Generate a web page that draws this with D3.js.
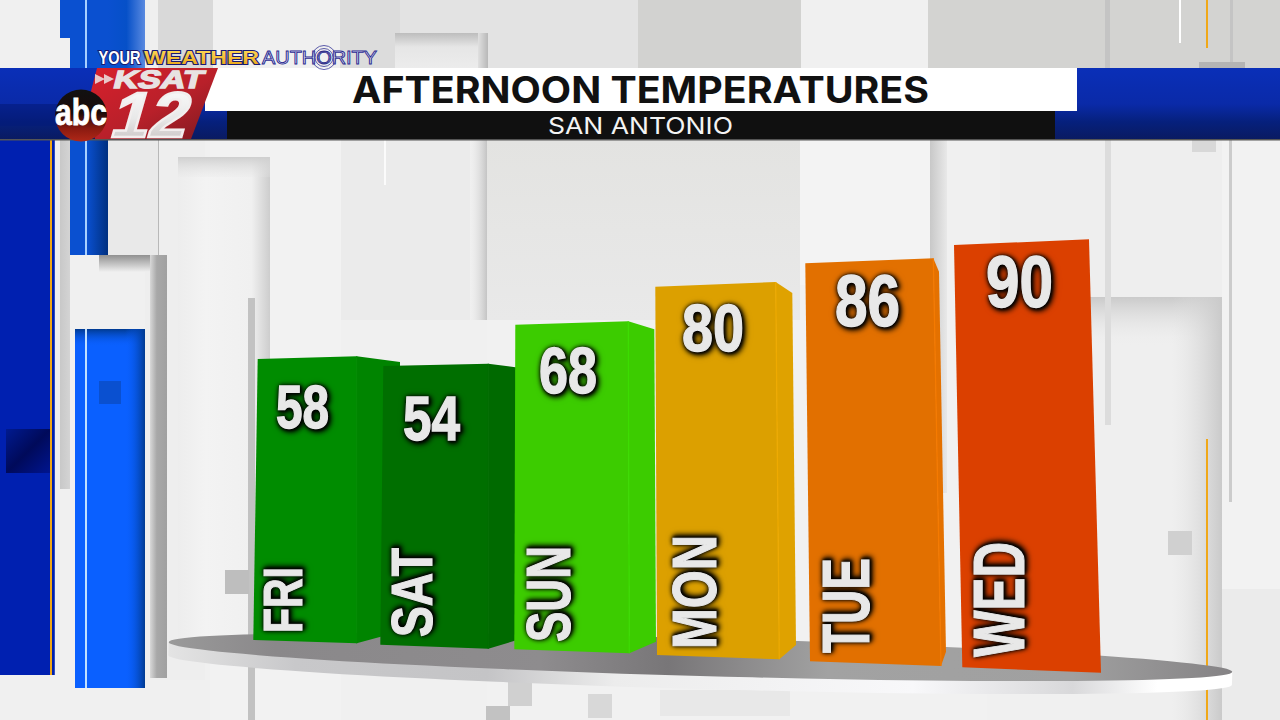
<!DOCTYPE html>
<html><head><meta charset="utf-8">
<script src="https://cdn.jsdelivr.net/npm/d3@7"></script>
<style>
html,body{margin:0;padding:0;background:#f0f0f0;overflow:hidden}
svg{display:block}
</style></head><body><svg id="c" width="1280" height="720" viewBox="0 0 1280 720"></svg>
<script>
// ---------- chart data ----------
const days = ["FRI","SAT","SUN","MON","TUE","WED"];
const temps = [58,54,68,80,86,90];
const frontColors = ["#008c00","#006f00","#3ccc00","#dca000","#e27000","#db4000"];
const sideColors  = ["#008400","#006a00","#3ccc00","#dfa200","#e47100","#db4000"];
const edgeColors  = ["#008a00","#006c00","#3cdc00","#eeaa00","#f57a00","#db4000"];
const titleText = "AFTERNOON TEMPERATURES";
const subtitleText = "SAN ANTONIO";

// ---------- perspective of the stage: scales indexed by bar position ----------
const knots = r => d3.scaleLinear().domain(d3.range(r.length)).range(r);
const tempY = d3.scaleLinear().domain([54,58,68,80,86,90]).range([366,359,324.7,286.7,263.3,245]);
const topLeftX = knots([257.7,383.3,515.3,655.3,805.3,954]);
const footLeftX = knots([253.3,380.3,514.3,657,810,962.3]);
const footLeftY = knots([640,644.7,649.3,655,661.3,667.3]);
const topRightX = knots([356.7,488.3,628.3,775.7,933.3,1089]);
const footRightX = knots([356.7,488.3,629.3,779.3,941,1101]);
const rise = knots([2.7,2.3,3.4,4.7,5,5.7]);
const fall = knots([-3.3,-4,-4,-4.3,-4.7,-5.4]);
const sideBackDX = knots([43.3,42,26,16.6,5.7,0]);
const sideBackTopDY = knots([5.7,5.5,8,11,13.4,0]);
const sideBackFootDX = knots([43.3,42,26.7,16.7,5,0]);
const sideBackFootDY = knots([-11.7,-12.7,-11.6,-14.3,-14.3,0]);
const numLeft = knots([276,403,539,682,835,986]);
const numWidth = knots([53,57,58,62,65,67]);
const numBase = knots([428,440,393,351,326,307]);
const numHeight = knots([45,47,48,50,53,54]);
const dayBase = knots([302,432,570,716,869,1024]);
const dayFoot = knots([633,637,642,649,653,657]);
const dayLen = knots([66,89,96,114,95,115]);
const dayCap = knots([41,42,46,47,49,53]);

const svg = d3.select("#c");
const defs = svg.append("defs");
function grad(id,x1,y1,x2,y2,stops){
  const g=defs.append("linearGradient").attr("id",id).attr("x1",x1).attr("y1",y1).attr("x2",x2).attr("y2",y2);
  stops.forEach(s=>g.append("stop").attr("offset",s[0]).attr("stop-color",s[1]).attr("stop-opacity",s[2]===undefined?1:s[2]));
  return `url(#${id})`;
}
function R(x,y,w,h,f,o){return svg.append("rect").attr("x",x).attr("y",y).attr("width",w).attr("height",h).attr("fill",f).attr("opacity",o===undefined?1:o);}

// ---------- background collage ----------
R(0,0,1280,720,"#f0f0f0");
// top row
R(145,0,15,68,"#efefef");R(158,0,55,68,"#d9d9d9");R(213,0,127,68,"#f0f0f0");R(340,0,60,68,"#dcdcdc");
R(400,0,238,68,"#e3e3e3");R(638,0,163,68,"#d2d2d0");R(801,0,127,68,"#f0f0f0");R(928,0,352,68,"#d3d3d1");
R(395,33,93,35,grad("g1","0","0","0","1",[[0,"#bdbdbd"],[.4,"#e6e6e6"],[1,"#ececec"]]));
R(478,33,10,35,grad("g2","0","0","1","0",[[0,"#e0e0e0"],[1,"#b8b8b8"]]));
R(1105,0,5,68,"#c4c4c4");R(1230,0,3,68,"#c4c4c4");
R(1179,0,2,43,"#ffffff");R(1206,0,2,48,"#f0a818");R(1199,62,46,6,"#b4b4b4");
// mid panels
R(145,140,60,540,"#eeeeee");R(108,140,50,115,"#e9e9e9");
R(210,140,131,580,"#f2f2f2");
R(341,140,129,180,"#ebebeb");
R(341,320,146,400,"#f0f0f0");
R(487,140,313,180,grad("g3","0","0","0","1",[[0,"#e3e3e1"],[1,"#e9e9e9"]]));
R(470,140,17,180,grad("g4","0","0","1","0",[[0,"#e4e4e4",0],[1,"#c4c4c4"]]));
R(384,140,2,45,"#fbfbfb");
R(487,320,500,400,"#f1f1f1");
R(800,140,130,145,"#f3f3f3");
R(1000,140,280,157,"#eeeeee");
R(930,140,17,353,grad("g5","0","0","1","0",[[0,"#c8c8c8"],[1,"#e8e8e8"]]));
R(1222,140,58,449,"#f2f2f2");R(1222,589,58,131,"#ebebeb");
R(1090,297,132,423,"#efefef");
R(1090,297,132,50,grad("g6","0","0","0","1",[[0,"#cacaca"],[1,"#efefef",0]]));
R(1172,297,50,423,grad("g7","0","0","1","0",[[0,"#e0e0e0",0],[1,"#cacaca"]]));
// light frame behind the first bars
R(178,157,92,500,grad("g8","0","0","1","0",[[0,"#ededed"],[.3,"#f3f3f3"],[.8,"#f0f0f0"],[1,"#cdcdcd"]]));
R(178,157,92,20,grad("g9","0","0","0","1",[[0,"#cfcfcf"],[1,"#e6e6e6",.2]]));
R(248,298,7,422,"#c2c2c2");R(225,570,24,24,"#bebebe");
// left blue blocks
R(60,0,10,38,"#0a50d0");
R(70,0,38,68,"#0a50d0");R(85,0,2,68,"#a8d0ff");
R(108,0,37,68,grad("g10","0","0","1","0",[[0,"#0a50d0"],[.5,"#0650c8"],[1,"#5a8ae0"]]));
R(70,140,38,115,"#0a50d0");R(85,140,2,115,"#a8d0ff");
R(87,140,21,115,grad("g11","0","0","1","0",[[0,"#0a50d0"],[1,"#003080"]]));
R(60,140,10,349,grad("g12","0","0","1","0",[[0,"#c8c8c8"],[1,"#d4d4d4"]]));
R(0,140,55,535,"#0020b0");R(50,140,2,535,"#f0a818");R(54,140,1,535,"#3050c0");
R(6,429,44,44,grad("g13","0","0","1","1",[[0,"#001a90"],[.5,"#000a5a"],[1,"#001590"]]));
R(99,255,68,17,grad("g14","0","0","0","1",[[0,"#909090"],[1,"#f0f0f0"]]));
R(150,255,17,423,grad("g15","0","0","1","0",[[0,"#d8d8d8"],[.4,"#a8a8a8"],[1,"#a0a0a0"]]));
R(158,130,1,125,"#b8b8b8");
R(75,329,70,359,"#0a60ff");
R(75,329,70,18,grad("g16","0","0","0","1",[[0,"#003a90"],[1,"#0a60ff",0]]));
R(125,329,20,359,grad("g17","0","0","1","0",[[0,"#0a60ff",0],[1,"#003a90"]]));
R(85,329,2,359,"#c0e0ff");R(99,381,22,23,"#0a50d0");
// right accents
R(1105,140,6,285,"#dcdcdc");R(1229,140,3,362,"#cccccc");
R(1168,531,24,24,"#d0d0d0");R(1192,140,24,12,"#d8d8d8");
R(1206,439,2,281,"#f0a818");
// below the plate
R(660,690,130,26,"#e8e8e8");R(508,682,24,24,"#d0d0d0");R(486,706,24,14,"#c2c2c2");R(588,694,24,24,"#d8d8d8");

// ---------- plate ----------
const rimG = grad("rim","0","0","1","0",[[0,"#e4e4e4"],[.12,"#c8c8ca"],[.3,"#c4c4c6"],[.42,"#ececec"],[.7,"#f8f8fa"],[.85,"#d8d8da"],[.93,"#ffffff"],[1,"#ffffff"]]);
const plateG = grad("plate","0","0","1","0",[[0,"#9a9a9a"],[.1,"#8a888a"],[.35,"#8e8c8e"],[.47,"#787678"],[.62,"#a2a2a2"],[.85,"#a0a0a0"],[1,"#858385"]]);
const plateRx=532, plateRy=19, plateRim=13;
const plate = svg.append("g").attr("transform","translate(700.5,657) rotate(1.6)");
plate.append("path").attr("fill",rimG)
  .attr("d",`M${-plateRx},0 v${plateRim} A${plateRx},${plateRy} 0 0 0 ${plateRx},${plateRim} v${-plateRim} Z`);
plate.append("ellipse").attr("rx",plateRx).attr("ry",plateRy).attr("fill",plateG);

// ---------- bars ----------
const line = d3.line();
const bars = svg.append("g").selectAll("g").data(temps).join("g");
bars.append("path").attr("fill",(d,i)=>sideColors[i]).attr("d",(d,i)=>{
  if(!sideBackDX(i)) return null;
  const yT=tempY(d)-rise(i), yF=footLeftY(i)-fall(i);
  return line([[topRightX(i),yT],[topRightX(i)+sideBackDX(i),yT+sideBackTopDY(i)],
    [footRightX(i)+sideBackFootDX(i),yF+sideBackFootDY(i)],[footRightX(i),yF]])+"Z";
});
bars.append("path").attr("fill",(d,i)=>frontColors[i]).attr("d",(d,i)=>line([
  [topLeftX(i),tempY(d)],[topRightX(i),tempY(d)-rise(i)],
  [footRightX(i),footLeftY(i)-fall(i)],[footLeftX(i),footLeftY(i)]])+"Z");
bars.append("path").attr("fill","none").attr("stroke",(d,i)=>edgeColors[i]).attr("stroke-width",1.2)
  .attr("d",(d,i)=>sideBackDX(i)?line([[topRightX(i),tempY(d)-rise(i)],[footRightX(i),footLeftY(i)-fall(i)]]):null);

const glow = "drop-shadow(1.5px 1.5px 1.5px #000) drop-shadow(1px 1px 2.5px rgba(0,0,0,.95)) drop-shadow(0 0 2px rgba(0,0,0,.6))";
const narrow = '"Liberation Sans Narrow","Liberation Sans",sans-serif';
svg.append("g").selectAll("text").data(temps).join("text")
  .text(d=>d).attr("x",(d,i)=>numLeft(i)).attr("y",(d,i)=>numBase(i))
  .attr("font-family",narrow).attr("font-weight",700)
  .attr("font-size",(d,i)=>numHeight(i)/0.74)
  .attr("textLength",(d,i)=>numWidth(i)).attr("lengthAdjust","spacingAndGlyphs")
  .attr("fill","#e8e8e8").attr("stroke","#e8e8e8").attr("stroke-width",1.4).style("filter",glow);
svg.append("g").selectAll("text").data(days).join("text")
  .text(d=>d)
  .attr("transform",(d,i)=>`translate(${dayBase(i)},${dayFoot(i)}) rotate(-90)`)
  .attr("font-family",narrow).attr("font-weight",700)
  .attr("font-size",(d,i)=>dayCap(i)/0.74)
  .attr("textLength",(d,i)=>dayLen(i)).attr("lengthAdjust","spacingAndGlyphs")
  .attr("fill","#e8e8e8").attr("stroke","#e8e8e8").attr("stroke-width",1.2).style("filter",glow);

// ---------- header ----------
const bandG = grad("band","0","0","0","1",[[0,"#0a2fb8"],[.5,"#0a2aa8"],[.75,"#06207c"],[1,"#0a1a60"]]);
R(0,68,230,72,bandG);
R(1055,68,225,72,bandG);
R(0,104,70,22,"#041a78",.55);
R(205,68,872,43,"#ffffff");
R(227,111,828,28,"#101010");
R(0,139,1280,1.5,"#555555");
svg.append("text").text(titleText).attr("x",352).attr("y",103)
  .attr("font-family","Inter,Lato,sans-serif").attr("font-weight",700).attr("font-size",36.5)
  .attr("textLength",577).attr("lengthAdjust","spacingAndGlyphs").attr("fill","#111");
svg.append("text").text(subtitleText).attr("x",548).attr("y",134)
  .attr("font-family","Inter,Lato,sans-serif").attr("font-weight",400).attr("font-size",23)
  .attr("textLength",185).attr("lengthAdjust","spacingAndGlyphs").attr("fill","#f4f4f4");

// ---------- branding ----------
const sansBold = '"Liberation Sans",Arial,sans-serif';
const brand = svg.append("g").attr("font-family",sansBold).attr("font-weight",700);
const goldG = grad("gold","0","0","0","1",[[0,"#ffe060"],[1,"#e8a010"]]);
function brandWord(t,x,len,fill){
  brand.append("text").text(t).attr("x",x).attr("y",63.5).attr("font-size",18)
    .attr("textLength",len).attr("lengthAdjust","spacingAndGlyphs")
    .attr("fill",fill).attr("stroke","#1a1a70").attr("stroke-width",2).attr("paint-order","stroke");
}
brandWord("YOUR",98.5,42,"#ffffff");
brandWord("WEATHER",144,115,goldG);
brand.append("text").text("AUTHORITY").attr("x",262).attr("y",63.5).attr("font-size",18).attr("font-weight",400)
  .attr("textLength",115).attr("lengthAdjust","spacingAndGlyphs")
  .attr("fill","#f0f0ff").attr("stroke","#2a2a90").attr("stroke-width",.9);
[12,9,6].forEach((r,i)=>brand.append("circle").attr("cx",324).attr("cy",57.5).attr("r",r).attr("fill","none").attr("stroke",["#4a4aa0","#4a4aa0","#2a2a80"][i]).attr("stroke-width",.9));

// KSAT parallelogram
svg.append("path").attr("d","M97,68 L218,68 L191,139 L95,139 L90,95 Z")
  .attr("fill",grad("red","0","0","1","1",[[0,"#d8202c"],[.55,"#b8202a"],[1,"#7c1a20"]]));
svg.append("text").text("KSAT").attr("transform","translate(112,87.5) skewX(-14)")
  .attr("font-family",sansBold).attr("font-weight",700).attr("font-size",25)
  .attr("textLength",90).attr("lengthAdjust","spacingAndGlyphs").attr("fill","#e8e2e2").attr("stroke","#e8e2e2").attr("stroke-width",1.4);
svg.append("path").attr("d","M95,74 L105,79 L95,84 Z M104,74 L114,79 L104,84 Z").attr("fill","#e8c8c8");
svg.append("text").text("12").attr("transform","translate(108,137) skewX(-16)")
  .attr("font-family",sansBold).attr("font-weight",700).attr("font-size",64)
  .attr("textLength",76).attr("lengthAdjust","spacingAndGlyphs")
  .attr("stroke","#f2eeee").attr("stroke-width",2.5)
  .attr("fill",grad("silver","0","0","0","1",[[0,"#ffffff"],[.55,"#e8e8e8"],[1,"#c0b8b8"]]));
const ball = defs.append("linearGradient").attr("id","ball").attr("x1",0).attr("y1",0).attr("x2",0).attr("y2",1);
[[0,"#111"],[.45,"#1a0a0a"],[.75,"#8a1a10"],[1,"#b02818"]].forEach(s=>ball.append("stop").attr("offset",s[0]).attr("stop-color",s[1]));
svg.append("circle").attr("cx",81).attr("cy",115.5).attr("r",26).attr("fill","url(#ball)");
svg.append("text").text("abc").attr("x",55).attr("y",125).attr("font-family",sansBold).attr("font-weight",700)
  .attr("font-size",37).attr("textLength",52).attr("lengthAdjust","spacingAndGlyphs").attr("fill","#fff").attr("stroke","#fff").attr("stroke-width",.8);
</script></body></html>
